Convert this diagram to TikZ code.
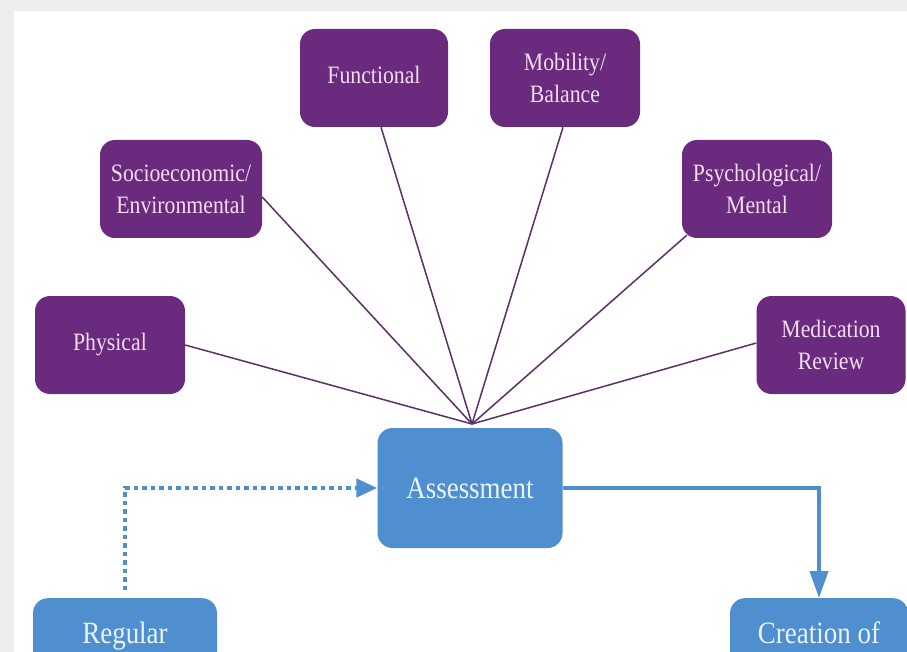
\documentclass[tikz,border=0pt]{standalone}
\usepackage{fontspec}
\setmainfont[FakeStretch=0.87]{Liberation Serif}
\usetikzlibrary{arrows.meta,calc}
\definecolor{purp}{HTML}{6A2A7E}
\definecolor{purpline}{HTML}{5A2F6A}
\definecolor{blu}{HTML}{4F8ECF}
\definecolor{purptext}{HTML}{F3DDF0}
\definecolor{blutext}{HTML}{EAF4FC}
\definecolor{bggray}{HTML}{EDEDED}
\tikzset{
  pbox/.style={fill=purp, rounded corners=15pt, text=purptext, align=center,
    font=\fontsize{25}{32}\selectfont, inner sep=0pt, minimum height=98pt},
  bbox/.style={fill=blu, rounded corners=15pt, text=blutext, align=center,
    font=\fontsize{31}{34}\selectfont, inner sep=0pt},
  spoke/.style={draw=purpline, line width=1.5pt},
  bluearrow/.style={draw=blu, line width=4pt, -{Triangle[length=27pt,width=18pt]}},
  dotarrow/.style={draw=blu, line width=4.5pt, dash pattern=on 4.5pt off 4pt,
    -{Triangle[length=21pt,width=18pt]}}
}
\begin{document}
\begin{tikzpicture}[x=1pt,y=-1pt]
\useasboundingbox (0,0) rectangle (907,652);
\fill[bggray] (0,0) rectangle (907,652);
\fill[white] (14,11) rectangle (907,652);
\begin{scope}
\clip (0,0) rectangle (907,652);
% purple boxes
\node[pbox, minimum width=148pt] (func) at (374,78) {\raisebox{6pt}{Functional}};
\node[pbox, minimum width=150pt] (mob) at (565,78) {Mobility/\\Balance};
\node[pbox, minimum width=162pt] (soc) at (181,189) {Socioeconomic/\\Environmental};
\node[pbox, minimum width=150pt] (psy) at (757,189) {Psychological/\\Mental};
\node[pbox, minimum width=150pt] (phys) at (110,345) {Physical};
\node[pbox, minimum width=149pt] (med) at (831,345) {Medication\\Review};
% blue boxes
\node[bbox, minimum width=185pt, minimum height=120pt] (assess) at (470,488) {Assessment};
\node[bbox, minimum width=184pt, minimum height=110pt, anchor=north] (reg) at (125,598) {Regular\\\phantom{Regular}};
\node[bbox, minimum width=178pt, minimum height=104pt, anchor=north] (crea) at (819,598) {Creation of\\\phantom{Creation}};
% spokes
\coordinate (hub) at (472,424);
\draw[spoke] (phys.east) -- (hub);
\draw[spoke] ($(soc.east)+(0,8)$) -- (hub);
\draw[spoke] ($(func.south)+(7,0)$) -- (hub);
\draw[spoke] ($(mob.south)+(-2,0)$) -- (hub);
\draw[spoke] ($(psy.south west)+(5,-3)$) -- (hub);
\draw[spoke] ($(med.west)+(0,-2)$) -- (hub);
% arrows
\coordinate (dstart) at (125,590);
\draw[dotarrow] (dstart) |- (assess.west);
\draw[bluearrow] (assess.east) -| (crea.north);
\end{scope}
\end{tikzpicture}
\end{document}
